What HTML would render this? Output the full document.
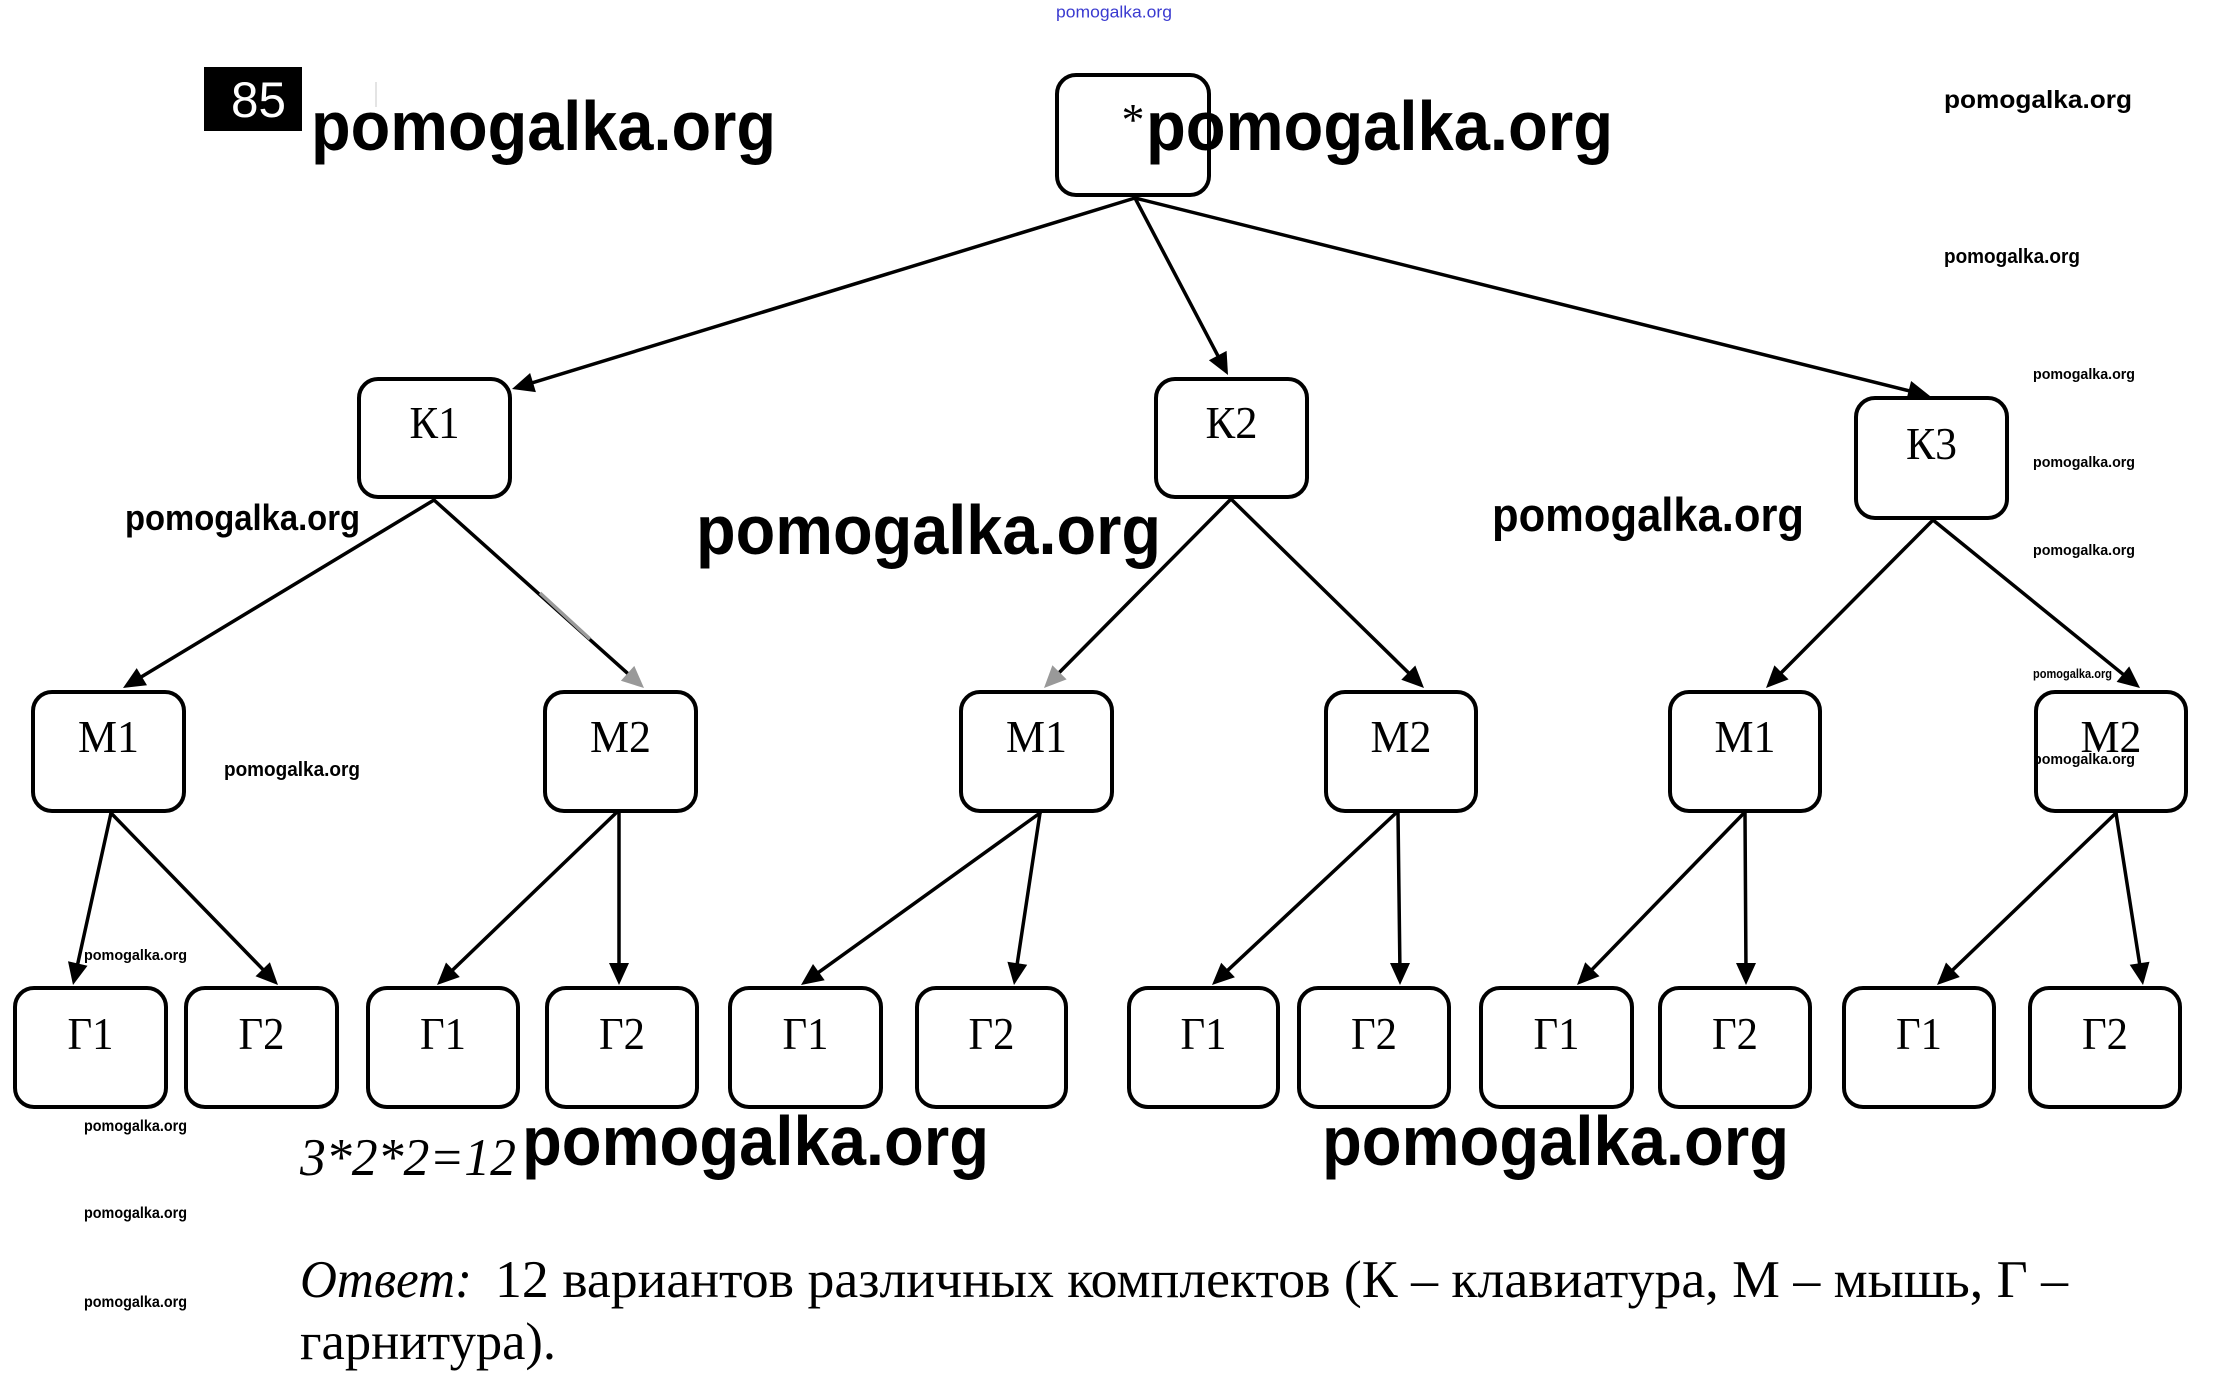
<!DOCTYPE html>
<html><head><meta charset="utf-8"><style>
html,body{margin:0;padding:0;background:#fff;}
svg{display:block;}
.lb{font-family:"Liberation Serif","DejaVu Serif",serif;font-size:46px;fill:#000;}
.wm{font-family:"Liberation Sans","DejaVu Sans",sans-serif;font-weight:bold;fill:#000;}
.tx{font-family:"Liberation Serif","DejaVu Serif",serif;font-size:53px;fill:#000;}
</style></head><body>
<svg width="2222" height="1380" viewBox="0 0 2222 1380" xmlns="http://www.w3.org/2000/svg">
<rect width="2222" height="1380" fill="#fff"/>
<g stroke="#000" stroke-width="3.5" fill="none" stroke-linecap="round">
<line x1="1135" y1="198" x2="521.6" y2="386.1"/>
<line x1="1135" y1="198" x2="1223.3" y2="366.1"/>
<line x1="1135" y1="198" x2="1920.3" y2="393.6"/>
<line x1="434" y1="500" x2="131.6" y2="682.8"/>
<line x1="434" y1="500" x2="636.5" y2="681.3"/>
<line x1="1231" y1="499" x2="1051" y2="680.9"/>
<line x1="1231" y1="499" x2="1416.9" y2="681"/>
<line x1="1933" y1="520" x2="1773.1" y2="680.9"/>
<line x1="1933" y1="520" x2="2132.2" y2="681.7"/>
<line x1="111" y1="813" x2="75.2" y2="975.2"/>
<line x1="111" y1="813" x2="271" y2="977.8"/>
<line x1="616" y1="813" x2="444.2" y2="978.1"/>
<line x1="619" y1="813" x2="619" y2="975"/>
<line x1="1040" y1="813" x2="809.1" y2="979.2"/>
<line x1="1040" y1="813" x2="1015.5" y2="975.1"/>
<line x1="1396" y1="813" x2="1219.3" y2="978.2"/>
<line x1="1398" y1="813" x2="1400" y2="975"/>
<line x1="1744" y1="813" x2="1584" y2="977.8"/>
<line x1="1745" y1="813" x2="1746" y2="975"/>
<line x1="2116" y1="813" x2="1944.2" y2="978.1"/>
<line x1="2116" y1="813" x2="2141.4" y2="975.1"/>
</g>
<line x1="540" y1="593" x2="590" y2="639" stroke="#9a9a9a" stroke-width="3.5"/>
<line x1="376" y1="82" x2="376" y2="107" stroke="#e4e4e4" stroke-width="2"/>
<g fill="#000">
<polygon points="512,389 530.1,373 535.9,392.1"/>
<polygon points="1228,375 1208.9,360.2 1226.6,350.9"/>
<polygon points="1930,396 1906.2,400.4 1911.1,381"/>
<polygon points="123,688 136.7,668.1 147,685.2"/>
<polygon points="644,688 620.9,680.8 634.3,665.9" fill="#999"/>
<polygon points="1044,688 1052.4,665.3 1066.6,679.4" fill="#999"/>
<polygon points="1424,688 1401.3,679.8 1415.3,665.5"/>
<polygon points="1766,688 1774.4,665.4 1788.6,679.4"/>
<polygon points="2140,688 2116.6,681.9 2129.2,666.4"/>
<polygon points="73,985 68,961.3 87.5,965.7"/>
<polygon points="278,985 255.5,976.2 269.9,962.2"/>
<polygon points="437,985 446,962.5 459.8,977"/>
<polygon points="619,985 609,963 629,963"/>
<polygon points="801,985 813,964 824.7,980.3"/>
<polygon points="1014,985 1007.4,961.8 1027.2,964.7"/>
<polygon points="1212,985 1221.2,962.7 1234.9,977.3"/>
<polygon points="1400,985 1390,963 1410,963"/>
<polygon points="1577,985 1585.2,962.2 1599.5,976.2"/>
<polygon points="1746,985 1736,963 1756,963"/>
<polygon points="1937,985 1946,962.5 1959.8,977"/>
<polygon points="2143,985 2129.7,964.8 2149.5,961.7"/>
</g>
<g fill="#fff" stroke="#000" stroke-width="4">
<rect x="1057" y="75" width="152" height="120" rx="19"/>
<rect x="359" y="379" width="151" height="118" rx="19"/>
<rect x="1156" y="379" width="151" height="118" rx="19"/>
<rect x="1856" y="398" width="151" height="120" rx="19"/>
<rect x="33" y="692" width="151" height="119" rx="19"/>
<rect x="545" y="692" width="151" height="119" rx="19"/>
<rect x="961" y="692" width="151" height="119" rx="19"/>
<rect x="1326" y="692" width="150" height="119" rx="19"/>
<rect x="1670" y="692" width="150" height="119" rx="19"/>
<rect x="2036" y="692" width="150" height="119" rx="19"/>
<rect x="15" y="988" width="151" height="119" rx="19"/>
<rect x="186" y="988" width="151" height="119" rx="19"/>
<rect x="368" y="988" width="150" height="119" rx="19"/>
<rect x="547" y="988" width="150" height="119" rx="19"/>
<rect x="730" y="988" width="151" height="119" rx="19"/>
<rect x="917" y="988" width="149" height="119" rx="19"/>
<rect x="1129" y="988" width="149" height="119" rx="19"/>
<rect x="1299" y="988" width="150" height="119" rx="19"/>
<rect x="1481" y="988" width="151" height="119" rx="19"/>
<rect x="1660" y="988" width="150" height="119" rx="19"/>
<rect x="1844" y="988" width="150" height="119" rx="19"/>
<rect x="2030" y="988" width="150" height="119" rx="19"/>
</g>
<g class="lb" text-anchor="middle">
<text x="1133" y="135">*</text>
<text x="434.5" y="438" textLength="50" lengthAdjust="spacingAndGlyphs">К1</text>
<text x="1231.5" y="438" textLength="52" lengthAdjust="spacingAndGlyphs">К2</text>
<text x="1931.5" y="459" textLength="51" lengthAdjust="spacingAndGlyphs">К3</text>
<text x="108.5" y="752" textLength="61" lengthAdjust="spacingAndGlyphs">М1</text>
<text x="620.5" y="752" textLength="61" lengthAdjust="spacingAndGlyphs">М2</text>
<text x="1036.5" y="752" textLength="61" lengthAdjust="spacingAndGlyphs">М1</text>
<text x="1401" y="752" textLength="61" lengthAdjust="spacingAndGlyphs">М2</text>
<text x="1745" y="752" textLength="61" lengthAdjust="spacingAndGlyphs">М1</text>
<text x="2111" y="752" textLength="61" lengthAdjust="spacingAndGlyphs">М2</text>
<text x="90.5" y="1049" textLength="46" lengthAdjust="spacingAndGlyphs">Г1</text>
<text x="261.5" y="1049" textLength="46" lengthAdjust="spacingAndGlyphs">Г2</text>
<text x="443" y="1049" textLength="46" lengthAdjust="spacingAndGlyphs">Г1</text>
<text x="622" y="1049" textLength="46" lengthAdjust="spacingAndGlyphs">Г2</text>
<text x="805.5" y="1049" textLength="46" lengthAdjust="spacingAndGlyphs">Г1</text>
<text x="991.5" y="1049" textLength="46" lengthAdjust="spacingAndGlyphs">Г2</text>
<text x="1203.5" y="1049" textLength="46" lengthAdjust="spacingAndGlyphs">Г1</text>
<text x="1374" y="1049" textLength="46" lengthAdjust="spacingAndGlyphs">Г2</text>
<text x="1556.5" y="1049" textLength="46" lengthAdjust="spacingAndGlyphs">Г1</text>
<text x="1735" y="1049" textLength="46" lengthAdjust="spacingAndGlyphs">Г2</text>
<text x="1919" y="1049" textLength="46" lengthAdjust="spacingAndGlyphs">Г1</text>
<text x="2105" y="1049" textLength="46" lengthAdjust="spacingAndGlyphs">Г2</text>
</g>
<rect x="204" y="67" width="98" height="64" fill="#000"/>
<text x="231" y="117" font-family="Liberation Sans, DejaVu Sans, sans-serif" font-size="50" fill="#fff" textLength="55" lengthAdjust="spacingAndGlyphs">85</text>
<text x="1056" y="17.5" font-family="Liberation Sans, DejaVu Sans, sans-serif" font-size="17" fill="#3a3ad0" textLength="116" lengthAdjust="spacingAndGlyphs">pomogalka.org</text>
<g class="wm">
<text x="311" y="150" font-size="70" textLength="465" lengthAdjust="spacingAndGlyphs">pomogalka.org</text>
<text x="1146" y="150" font-size="70" textLength="467" lengthAdjust="spacingAndGlyphs">pomogalka.org</text>
<text x="1944" y="108" font-size="25" textLength="188" lengthAdjust="spacingAndGlyphs">pomogalka.org</text>
<text x="1944" y="263" font-size="20" textLength="136" lengthAdjust="spacingAndGlyphs">pomogalka.org</text>
<text x="2033" y="379" font-size="15" textLength="102" lengthAdjust="spacingAndGlyphs">pomogalka.org</text>
<text x="2033" y="467" font-size="15" textLength="102" lengthAdjust="spacingAndGlyphs">pomogalka.org</text>
<text x="2033" y="555" font-size="15" textLength="102" lengthAdjust="spacingAndGlyphs">pomogalka.org</text>
<text x="2033" y="678" font-size="13" textLength="79" lengthAdjust="spacingAndGlyphs">pomogalka.org</text>
<text x="2033" y="764" font-size="15" textLength="102" lengthAdjust="spacingAndGlyphs">pomogalka.org</text>
<text x="125" y="530" font-size="36" textLength="235" lengthAdjust="spacingAndGlyphs">pomogalka.org</text>
<text x="224" y="776" font-size="20" textLength="136" lengthAdjust="spacingAndGlyphs">pomogalka.org</text>
<text x="84" y="960" font-size="15" textLength="103" lengthAdjust="spacingAndGlyphs">pomogalka.org</text>
<text x="84" y="1131" font-size="16" textLength="103" lengthAdjust="spacingAndGlyphs">pomogalka.org</text>
<text x="84" y="1218" font-size="16" textLength="103" lengthAdjust="spacingAndGlyphs">pomogalka.org</text>
<text x="84" y="1307" font-size="16" textLength="103" lengthAdjust="spacingAndGlyphs">pomogalka.org</text>
<text x="696" y="554" font-size="70" textLength="465" lengthAdjust="spacingAndGlyphs">pomogalka.org</text>
<text x="1492" y="531" font-size="47" textLength="312" lengthAdjust="spacingAndGlyphs">pomogalka.org</text>
<text x="522" y="1165" font-size="70" textLength="467" lengthAdjust="spacingAndGlyphs">pomogalka.org</text>
<text x="1322" y="1165" font-size="70" textLength="467" lengthAdjust="spacingAndGlyphs">pomogalka.org</text>
</g>
<text class="tx" x="300" y="1175" font-style="italic" textLength="216" lengthAdjust="spacingAndGlyphs">3*2*2=12</text>
<text class="tx" x="300" y="1297" font-style="italic" textLength="172" lengthAdjust="spacingAndGlyphs">Ответ:</text>
<text class="tx" x="495" y="1297" textLength="1573" lengthAdjust="spacingAndGlyphs">12 вариантов различных комплектов (К – клавиатура, М – мышь, Г –</text>
<text class="tx" x="300" y="1359" textLength="256" lengthAdjust="spacingAndGlyphs">гарнитура).</text>
</svg>
</body></html>
